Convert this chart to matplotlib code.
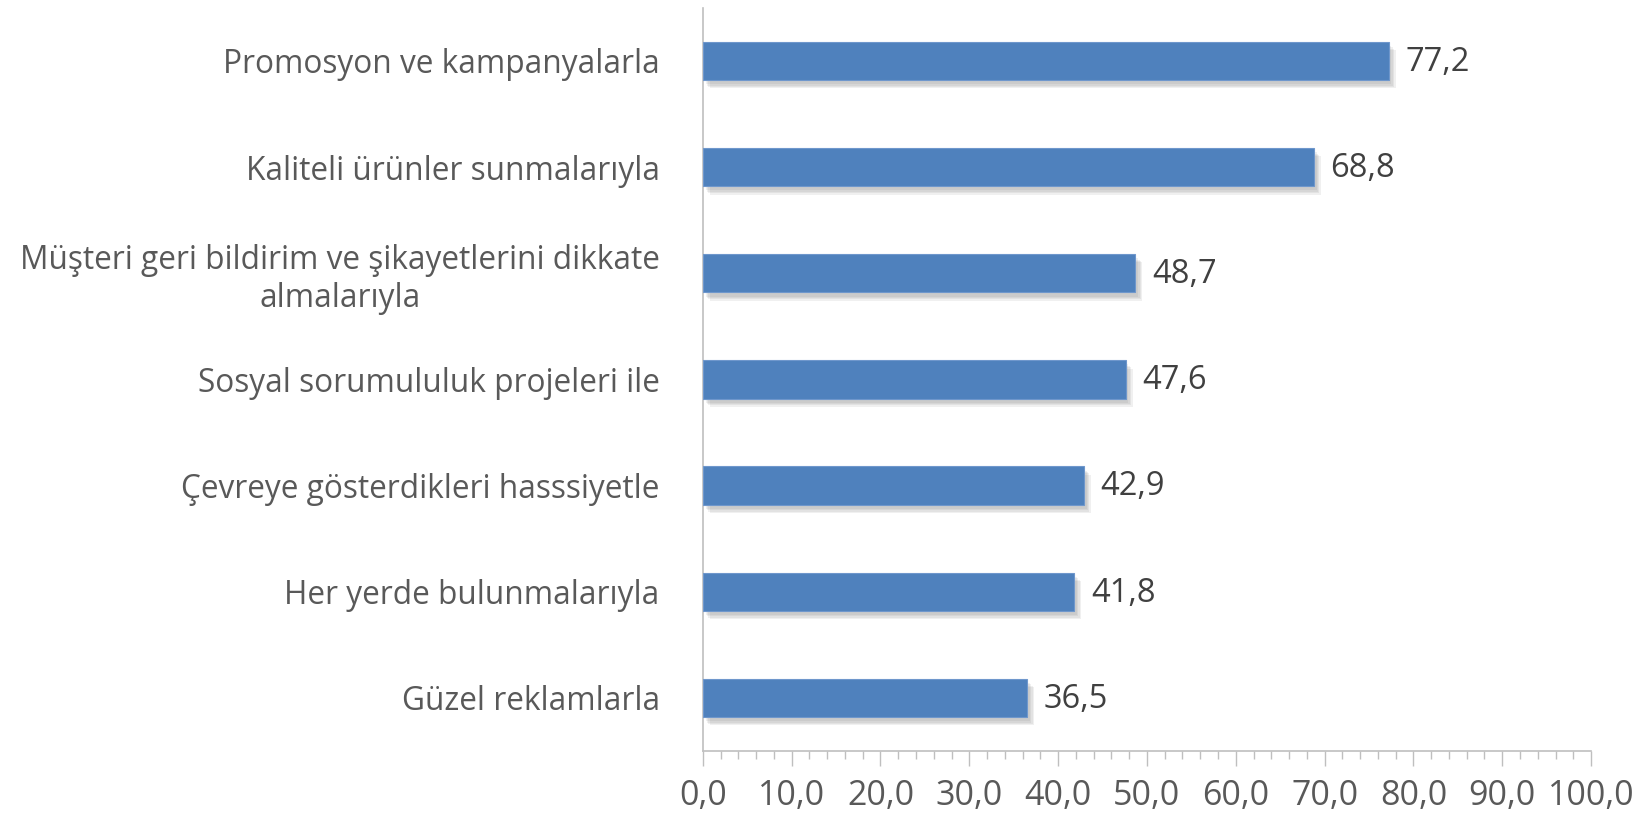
import matplotlib.pyplot as plt
import matplotlib.patheffects as pe
from matplotlib.ticker import MultipleLocator
import numpy as np

categories = [
    "Promosyon ve kampanyalarla",
    "Kaliteli ürünler sunmalarıyla",
    "Müşteri geri bildirim ve şikayetlerini dikkate\nalmalarıyla",
    "Sosyal sorumululuk projeleri ile",
    "Çevreye gösterdikleri hasssiyetle",
    "Her yerde bulunmalarıyla",
    "Güzel reklamlarla",
]
values = [77.2, 68.8, 48.7, 47.6, 42.9, 41.8, 36.5]

plt.rcParams['font.family'] = ['Open Sans', 'DejaVu Sans']

fig = plt.figure(figsize=(16.42, 8.13), dpi=100)
ax = fig.add_axes([0.428, 0.0763, 0.541, 0.914])

y = np.arange(len(categories))
bars = ax.barh(y, values, height=0.36, color='#4F81BD', edgecolor='#6F97CC', linewidth=0.8,
               zorder=3)
# soft shadow, built from a few faint offset copies
shadow = [pe.SimplePatchShadow(offset=(d, -d - 1), shadow_rgbFace='#6f6f6f', alpha=0.10)
          for d in (5, 4, 3, 2)]
for b in bars:
    b.set_path_effects(shadow + [pe.Normal()])

for yi, v in zip(y, values):
    ax.annotate(f"{v:.1f}".replace('.', ','), (v, yi), xytext=(12, -1), textcoords='offset points',
                va='center', ha='left', fontsize=23.5, color='#404040')

ax.set_ylim(len(categories) - 0.5, -0.5)
ax.set_xlim(0, 100)
ax.set_yticks(y)
ax.set_yticklabels(categories, fontsize=22.8, color='#595959', multialignment='center')
ax.tick_params(axis='y', length=0, pad=31)

ax.xaxis.set_major_locator(MultipleLocator(10))
ax.xaxis.set_minor_locator(MultipleLocator(2))
ax.set_xticks(np.arange(0, 101, 10))
ax.set_xticklabels([f"{t:.1f}".replace('.', ',') for t in np.arange(0, 101, 10)])
ax.tick_params(axis='x', which='major', length=11, width=1, color='#BFBFBF',
               labelsize=24.5, labelcolor='#595959', pad=9)
ax.tick_params(axis='x', which='minor', length=6, width=1, color='#BFBFBF')

for s in ['top', 'right']:
    ax.spines[s].set_visible(False)
for s in ['left', 'bottom']:
    ax.spines[s].set_color('#BFBFBF')
    ax.spines[s].set_linewidth(1.2)

fig.savefig('out.png', dpi=100)
